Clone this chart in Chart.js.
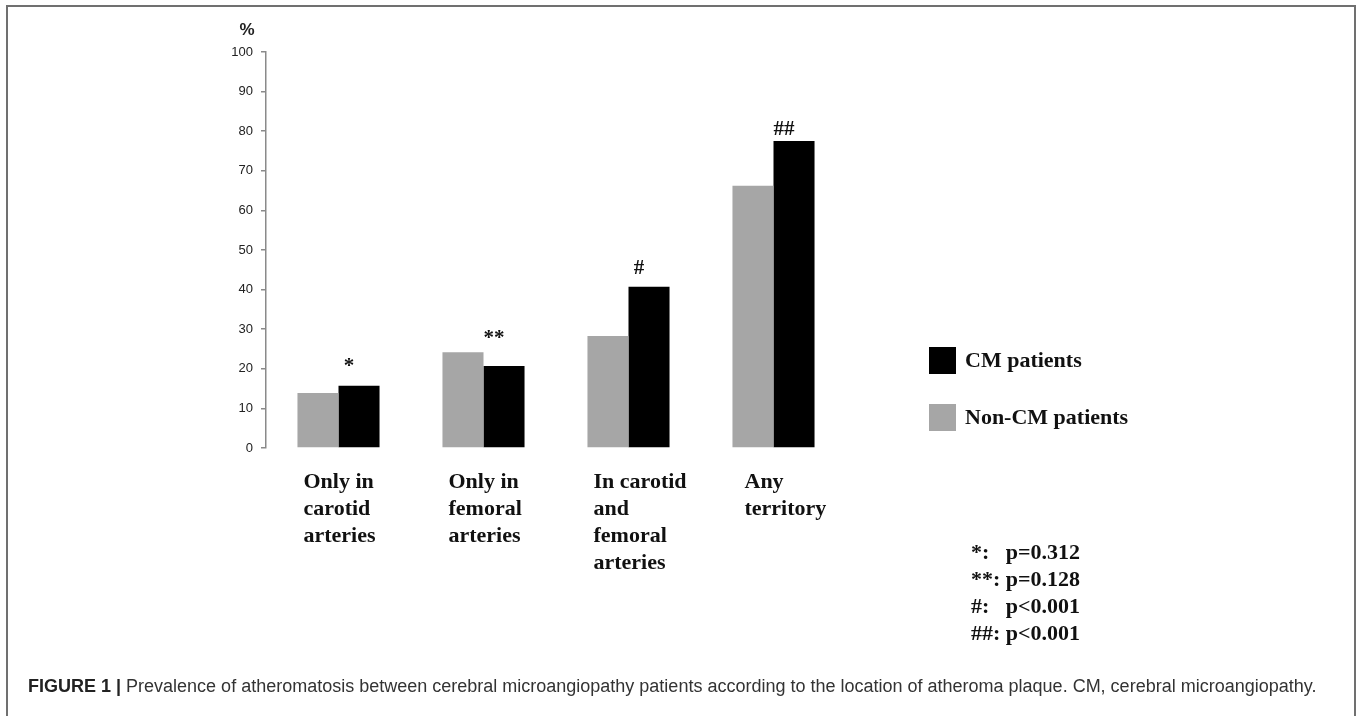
<!DOCTYPE html>
<html><head><meta charset="utf-8">
<script src="https://cdn.jsdelivr.net/npm/chart.js@4"></script>
<style>
html,body{margin:0;padding:0;background:#fff;}
#wrap{position:relative;width:1357px;height:716px;overflow:hidden;}
#frame{position:absolute;left:6px;top:5px;width:1350px;height:730px;border:2px solid #707070;border-bottom:none;box-sizing:border-box;}
canvas{position:absolute;left:0;top:0;}
#cap{position:absolute;left:28px;top:677px;font:18px/18px "Liberation Sans",Arial,sans-serif;color:#333;white-space:nowrap;}
#cap b{color:#222;}
</style></head>
<body>
<div id="wrap">
<div id="frame"></div>
<canvas id="c" width="1357" height="716"></canvas>
<div id="cap"><b>FIGURE 1 |</b> Prevalence of atheromatosis between cerebral microangiopathy patients according to the location of atheroma plaque. CM, cerebral microangiopathy.</div>
</div>
<script>
const categories = [["Only in","carotid","arteries"],["Only in","femoral","arteries"],["In carotid","and","femoral","arteries"],["Any","territory"]];
const seriesNames = ["Non-CM patients","CM patients"];
const nonCM = [13.9, 24.2, 28.3, 66.2];
const cm = [15.7, 20.7, 40.7, 77.5];
const significance = ["*","**","#","##"];
const pValues = ["*:   p=0.312","**: p=0.128","#:   p<0.001","##: p<0.001"];
const yMin = 0, yMax = 100, yStep = 10;
const yUnit = "%";

const colors = ["#a6a6a6","#000000"];
const serif = '"Liberation Serif","Times New Roman",serif';
const sans = '"Liberation Sans",Arial,sans-serif';

const overlay = {
  id: 'overlay',
  afterDraw(chart, args, opts) {
    const ctx = chart.ctx;
    const xs = chart.scales.x;
    ctx.save();
    ctx.fillStyle = '#111';
    ctx.font = 'bold 22px ' + serif;
    ctx.textAlign = 'left';
    ctx.textBaseline = 'alphabetic';
    categories.forEach((lines, i) => {
      const x = xs.getPixelForValue(i) + opts.labelDx[i];
      lines.forEach((t, k) => ctx.fillText(t, x, opts.labelY + k * 27));
    });
    ctx.font = 'bold 21px ' + serif;
    ctx.textAlign = 'center';
    const meta = chart.getDatasetMeta(1);
    significance.forEach((s, i) => {
      const el = meta.data[i];
      ctx.fillText(s, el.x - 10, el.y - opts.markDy[i]);
    });
    ctx.textAlign = 'left';
    ctx.font = 'bold 22px ' + serif;
    [1, 0].forEach((d, k) => {
      const top = 347 + k * 57;
      ctx.fillStyle = colors[d];
      ctx.fillRect(929, top, 27, 27);
      ctx.fillStyle = '#111';
      ctx.fillText(seriesNames[d], 965, top + 20);
    });
    pValues.forEach((t, k) => ctx.fillText(t, 971, 559 + k * 27));
    ctx.font = 'bold 17px ' + sans;
    ctx.textAlign = 'center';
    ctx.fillStyle = '#222';
    ctx.fillText(yUnit, 247, 35);
    ctx.restore();
  }
};

new Chart(document.getElementById('c'), {
  type: 'bar',
  data: {
    labels: categories.map(l => l.join(' ')),
    datasets: [
      { label: seriesNames[0], data: nonCM, backgroundColor: colors[0], categoryPercentage: 0.566, barPercentage: 1.0 },
      { label: seriesNames[1], data: cm, backgroundColor: colors[1], categoryPercentage: 0.566, barPercentage: 1.0 }
    ]
  },
  options: {
    responsive: false,
    animation: false,
    devicePixelRatio: 1,
    layout: { padding: { left: 206, right: 511, top: 52, bottom: 268 } },
    plugins: {
      legend: { display: false },
      tooltip: { enabled: false },
      overlay: { labelDx: [-35, -35, -35, -29], labelY: 488, markDy: [14, 22, 13, 6] }
    },
    scales: {
      x: {
        grid: { display: false },
        border: { display: false },
        ticks: { display: false },
        afterFit: s => { s.height = 0; }
      },
      y: {
        min: yMin, max: yMax,
        ticks: { stepSize: yStep, padding: 8, color: '#222', font: { family: sans, size: 13 } },
        grid: { drawOnChartArea: false, tickLength: 5, color: '#8a8a8a', lineWidth: 1.5 },
        border: { color: '#8a8a8a', width: 1.5 },
        afterFit: s => { s.width = 60; }
      }
    }
  },
  plugins: [overlay]
});
</script>
</body></html>
